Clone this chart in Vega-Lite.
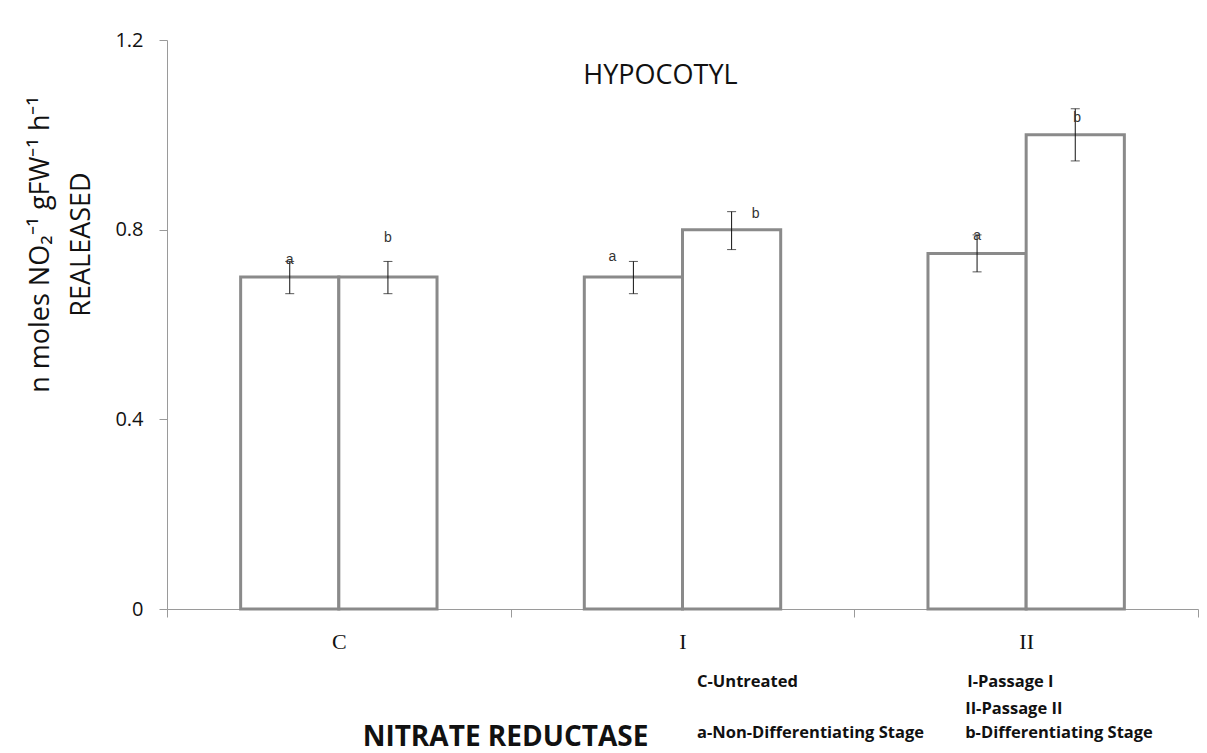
{
  "$schema": "https://vega.github.io/schema/vega-lite/v6.json",
  "width": 1031,
  "height": 569,
  "autosize": {"type": "none"},
  "padding": {"left": 167, "top": 40, "right": 9, "bottom": 144},
  "background": "white",
  "config": {"view": {"stroke": null}, "font": "Open Sans"},
  "title": {"text": "HYPOCOTYL", "frame": "group", "anchor": "middle", "dx": -22, "offset": -81, "baseline": "alphabetic", "fontSize": 27, "font": "Open Sans", "fontWeight": "normal", "color": "#111111"},
  "data": {"values": [
    {"grp": "C", "stage": "a", "value": 0.7, "lo": 0.665, "hi": 0.733, "label": "a", "id": "Ca"},
    {"grp": "C", "stage": "b", "value": 0.7, "lo": 0.665, "hi": 0.733, "label": "b", "id": "Cb"},
    {"grp": "I", "stage": "a", "value": 0.7, "lo": 0.665, "hi": 0.733, "label": "a", "id": "Ia"},
    {"grp": "I", "stage": "b", "value": 0.8, "lo": 0.758, "hi": 0.838, "label": "b", "id": "Ib"},
    {"grp": "II", "stage": "a", "value": 0.75, "lo": 0.711, "hi": 0.789, "label": "a", "id": "IIa"},
    {"grp": "II", "stage": "b", "value": 1.0, "lo": 0.945, "hi": 1.055, "label": "b", "id": "IIb"}
  ]},
  "layer": [
    {
      "mark": {"type": "bar", "fill": "white", "stroke": "#8a8a8a", "strokeWidth": 3},
      "encoding": {
        "x": {"field": "grp", "type": "nominal", "sort": ["C", "I", "II"],
          "scale": {"domain": ["C", "I", "II"], "paddingInner": 0, "paddingOuter": 0},
          "axis": {"title": "NITRATE REDUCTASE", "labelAngle": 0, "labelFont": "Liberation Serif", "labelFontSize": 22, "labelColor": "#111111", "labelPadding": 14, "tickBand": "extent", "tickSize": 8, "domainColor": "#9a9a9a", "tickColor": "#9a9a9a", "titleFont": "Open Sans", "titleFontSize": 28, "titleFontWeight": "bold", "titleColor": "#111111", "titleX": 338, "titleY": 128, "titleAlign": "center", "titleBaseline": "middle", "grid": false}},
        "xOffset": {"field": "stage", "type": "nominal", "sort": ["a", "b"], "scale": {"paddingInner": 0, "paddingOuter": 0.75}},
        "y": {"field": "value", "type": "quantitative", "scale": {"domain": [0, 1.2], "nice": false},
          "axis": {"title": ["n moles NO₂⁻¹ gFW⁻¹ h⁻¹", "REALEASED"], "values": [0, 0.4, 0.8, 1.2], "format": ".1~f", "grid": false, "tickSize": 8, "labelPadding": 16, "labelFont": "Open Sans", "labelFontSize": 20, "labelColor": "#111111", "domainColor": "#9a9a9a", "tickColor": "#9a9a9a", "titleFont": "Open Sans", "titleFontSize": 27, "titleFontWeight": "normal", "titleColor": "#111111", "titleAngle": 270, "titleX": -119, "titleY": 204, "titleAlign": "center", "titleBaseline": "alphabetic", "titleLineHeight": 41}}
      }
    },
    {
      "mark": {"type": "rule", "color": "#111111", "strokeWidth": 1},
      "encoding": {
        "x": {"field": "grp", "type": "nominal"},
        "xOffset": {"field": "stage", "type": "nominal"},
        "y": {"field": "lo", "type": "quantitative", "scale": {"domain": [0, 1.2], "nice": false}},
        "y2": {"field": "hi"}
      }
    },
    {
      "mark": {"type": "tick", "color": "#111111", "thickness": 1, "size": 9},
      "encoding": {
        "x": {"field": "grp", "type": "nominal"},
        "xOffset": {"field": "stage", "type": "nominal"},
        "y": {"field": "lo", "type": "quantitative", "scale": {"domain": [0, 1.2], "nice": false}}
      }
    },
    {
      "mark": {"type": "tick", "color": "#111111", "thickness": 1, "size": 9},
      "encoding": {
        "x": {"field": "grp", "type": "nominal"},
        "xOffset": {"field": "stage", "type": "nominal"},
        "y": {"field": "hi", "type": "quantitative", "scale": {"domain": [0, 1.2], "nice": false}}
      }
    },
    {
      "transform": [{"filter": "datum.id == 'Ca'"}],
      "mark": {"type": "text", "font": "Liberation Sans", "fontSize": 14, "color": "#333333", "baseline": "middle", "dy": -1},
      "encoding": {
        "x": {"field": "grp", "type": "nominal"},
        "xOffset": {"field": "stage", "type": "nominal"},
        "y": {"field": "hi", "type": "quantitative", "scale": {"domain": [0, 1.2], "nice": false}},
        "text": {"field": "label"}
      }
    },
    {
      "transform": [{"filter": "datum.id == 'Cb'"}],
      "mark": {"type": "text", "font": "Liberation Sans", "fontSize": 14, "color": "#333333", "baseline": "middle", "dy": -23},
      "encoding": {
        "x": {"field": "grp", "type": "nominal"},
        "xOffset": {"field": "stage", "type": "nominal"},
        "y": {"field": "hi", "type": "quantitative", "scale": {"domain": [0, 1.2], "nice": false}},
        "text": {"field": "label"}
      }
    },
    {
      "transform": [{"filter": "datum.id == 'Ia'"}],
      "mark": {"type": "text", "font": "Liberation Sans", "fontSize": 14, "color": "#333333", "baseline": "middle", "dx": -21, "dy": -4},
      "encoding": {
        "x": {"field": "grp", "type": "nominal"},
        "xOffset": {"field": "stage", "type": "nominal"},
        "y": {"field": "hi", "type": "quantitative", "scale": {"domain": [0, 1.2], "nice": false}},
        "text": {"field": "label"}
      }
    },
    {
      "transform": [{"filter": "datum.id == 'Ib'"}],
      "mark": {"type": "text", "font": "Liberation Sans", "fontSize": 14, "color": "#333333", "baseline": "middle", "dx": 24, "dy": 2},
      "encoding": {
        "x": {"field": "grp", "type": "nominal"},
        "xOffset": {"field": "stage", "type": "nominal"},
        "y": {"field": "hi", "type": "quantitative", "scale": {"domain": [0, 1.2], "nice": false}},
        "text": {"field": "label"}
      }
    },
    {
      "transform": [{"filter": "datum.id == 'IIa'"}],
      "mark": {"type": "text", "font": "Liberation Sans", "fontSize": 14, "color": "#333333", "baseline": "middle", "dy": 1},
      "encoding": {
        "x": {"field": "grp", "type": "nominal"},
        "xOffset": {"field": "stage", "type": "nominal"},
        "y": {"field": "hi", "type": "quantitative", "scale": {"domain": [0, 1.2], "nice": false}},
        "text": {"field": "label"}
      }
    },
    {
      "transform": [{"filter": "datum.id == 'IIb'"}],
      "mark": {"type": "text", "font": "Liberation Sans", "fontSize": 14, "color": "#333333", "baseline": "middle", "dx": 2, "dy": 9},
      "encoding": {
        "x": {"field": "grp", "type": "nominal"},
        "xOffset": {"field": "stage", "type": "nominal"},
        "y": {"field": "hi", "type": "quantitative", "scale": {"domain": [0, 1.2], "nice": false}},
        "text": {"field": "label"}
      }
    },
    {
      "data": {"values": [{"note": "C-Untreated"}]},
      "mark": {"type": "text", "font": "Open Sans", "fontWeight": "bold", "fontSize": 16.5, "color": "#111111", "align": "left", "baseline": "middle", "dx": 14.5},
      "encoding": {
        "x": {"datum": "I", "type": "nominal"},
        "y": {"datum": -0.154, "type": "quantitative", "scale": {"domain": [0, 1.2], "nice": false}},
        "text": {"field": "note"}
      }
    },
    {
      "data": {"values": [{"note": "a-Non-Differentiating Stage"}]},
      "mark": {"type": "text", "font": "Open Sans", "fontWeight": "bold", "fontSize": 16.5, "color": "#111111", "align": "left", "baseline": "middle", "dx": 14.5},
      "encoding": {
        "x": {"datum": "I", "type": "nominal"},
        "y": {"datum": -0.2615, "type": "quantitative", "scale": {"domain": [0, 1.2], "nice": false}},
        "text": {"field": "note"}
      }
    },
    {
      "data": {"values": [{"note": "I-Passage I"}]},
      "mark": {"type": "text", "font": "Open Sans", "fontWeight": "bold", "fontSize": 16.5, "color": "#111111", "align": "left", "baseline": "middle", "dx": -59},
      "encoding": {
        "x": {"datum": "II", "type": "nominal"},
        "y": {"datum": -0.154, "type": "quantitative", "scale": {"domain": [0, 1.2], "nice": false}},
        "text": {"field": "note"}
      }
    },
    {
      "data": {"values": [{"note": "II-Passage II"}]},
      "mark": {"type": "text", "font": "Open Sans", "fontWeight": "bold", "fontSize": 16.5, "color": "#111111", "align": "left", "baseline": "middle", "dx": -61},
      "encoding": {
        "x": {"datum": "II", "type": "nominal"},
        "y": {"datum": -0.211, "type": "quantitative", "scale": {"domain": [0, 1.2], "nice": false}},
        "text": {"field": "note"}
      }
    },
    {
      "data": {"values": [{"note": "b-Differentiating Stage"}]},
      "mark": {"type": "text", "font": "Open Sans", "fontWeight": "bold", "fontSize": 16.5, "color": "#111111", "align": "left", "baseline": "middle", "dx": -61},
      "encoding": {
        "x": {"datum": "II", "type": "nominal"},
        "y": {"datum": -0.2615, "type": "quantitative", "scale": {"domain": [0, 1.2], "nice": false}},
        "text": {"field": "note"}
      }
    }
  ]
}
